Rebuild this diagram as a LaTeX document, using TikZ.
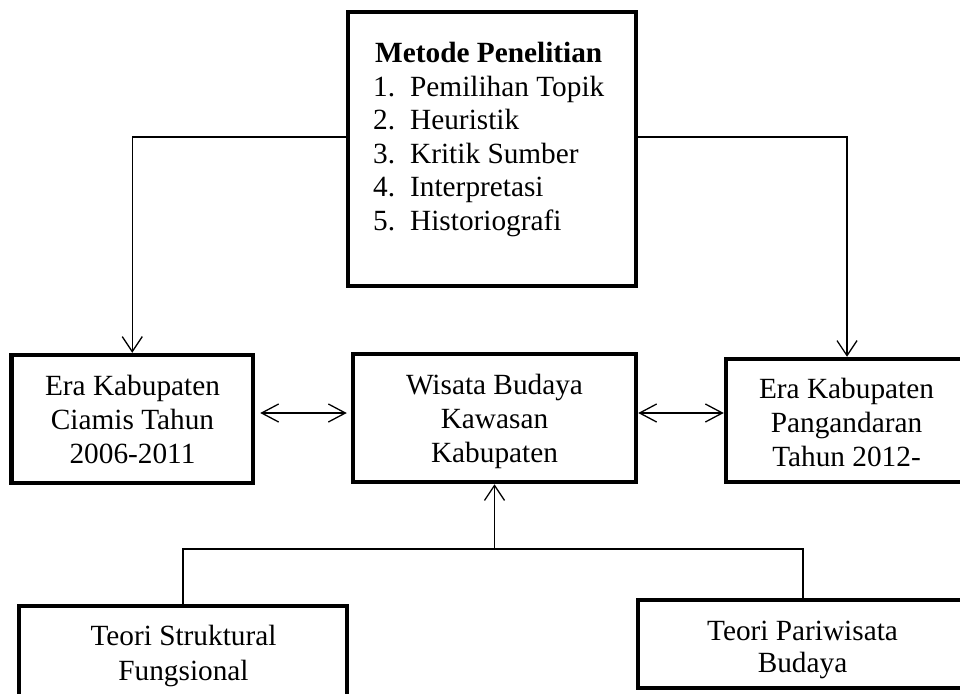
\documentclass[tikz,border=0pt]{standalone}
\usepackage{fontspec}
\setmainfont{Liberation Serif}
\usetikzlibrary{arrows.meta}
\begin{document}
\begin{tikzpicture}[x=1pt,y=-1pt,
  box/.style={draw,line width=4.5pt,rectangle,inner sep=0pt},
  txt/.style={inner sep=0pt,align=center,font=\fontsize{29.3}{34}\selectfont,anchor=base},
  conn/.style={line width=1.3pt},
  arr/.style={conn,-{Straight Barb[length=15pt,width=20pt]}},
  dbl/.style={conn,{Straight Barb[length=17pt,width=18pt]}-{Straight Barb[length=17pt,width=18pt]}}]
\useasboundingbox (0,0) rectangle (960,693);
\clip (0,0) rectangle (960,693);

% boxes
\node[box,minimum width=288pt,minimum height=274pt] (top) at (492,149) {};
\node[box,minimum width=241.5pt,minimum height=128pt] (lbox) at (132.25,419) {};
\node[box,minimum width=283pt,minimum height=128pt] (mbox) at (494.5,418) {};
\node[box,minimum width=242pt,minimum height=123pt] (rbox) at (847,420.5) {};
\node[box,minimum width=328pt,minimum height=124pt] (blbox) at (183,668) {};
\node[box,minimum width=330pt,minimum height=88pt] (brbox) at (803,644) {};

% texts (anchor base = baseline of the last line)
\node[inner sep=0pt,anchor=base west,font=\fontsize{29.3}{33.4}\selectfont] (toptext) at (373,63)
 {\begin{tabular}[t]{@{}l@{}}
  \multicolumn{1}{@{}c@{}}{\textbf{Metode Penelitian}}\\
  \makebox[37pt][l]{1.}Pemilihan Topik\\
  \makebox[37pt][l]{2.}Heuristik\\
  \makebox[37pt][l]{3.}Kritik Sumber\\
  \makebox[37pt][l]{4.}Interpretasi\\
  \makebox[37pt][l]{5.}Historiografi
  \end{tabular}};
\node[txt] (ltext) at (132.5,463) {Era Kabupaten\\Ciamis Tahun\\2006-2011};
\node[txt] (mtext) at (494.5,462) {Wisata Budaya\\Kawasan\\Kabupaten};
\node[txt] (rtext) at (846.5,466) {Era Kabupaten\\Pangandaran\\Tahun 2012-};
\node[txt,font=\fontsize{29.3}{35}\selectfont] (bltext) at (183.5,680) {Teori Struktural\\Fungsional};
\node[txt,font=\fontsize{29.3}{32}\selectfont] (brtext) at (802.5,672) {Teori Pariwisata\\Budaya};

% connectors
\draw[arr] (top.west |- 0,137) -| (lbox.north);
\draw[arr] (top.east |- 0,137) -| (rbox.north);
\draw[dbl,shorten <=5pt,shorten >=4pt] (lbox.east |- 0,413) -- (mbox.west |- 0,413);
\draw[dbl] (mbox.east |- 0,413) -- (rbox.west |- 0,413);
\coordinate (j) at (mbox.south |- 0,549);
\draw[conn] (blbox.north) |- (j) -| (brbox.north);
\draw[arr] (j) -- (mbox.south);
\end{tikzpicture}
\end{document}
